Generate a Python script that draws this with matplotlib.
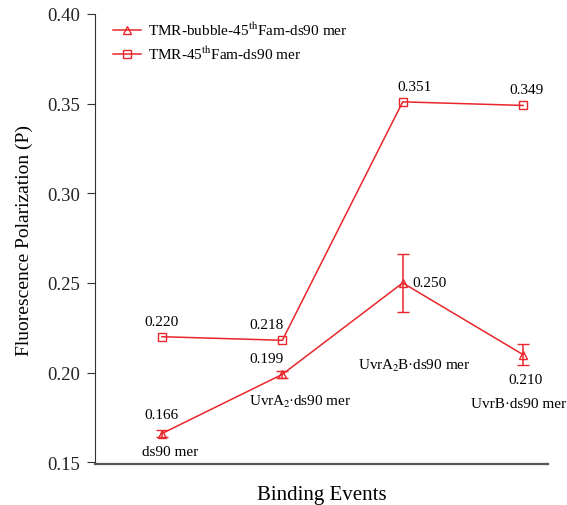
import matplotlib
matplotlib.use("Agg")
import matplotlib.pyplot as plt
from matplotlib.lines import Line2D

plt.rcParams["font.family"] = ["Liberation Serif", "DejaVu Serif"]
plt.rcParams["mathtext.fontset"] = "stix"

events = ["ds90 mer", r"UvrA$_2\!$·ds90 mer", r"UvrA$_2\!$B·ds90 mer", "UvrB·ds90 mer"]
bubble = [0.166, 0.199, 0.250, 0.210]
bubble_err = [0.002, 0.002, 0.016, 0.006]
duplex = [0.220, 0.218, 0.351, 0.349]
yticks = [0.15, 0.20, 0.25, 0.30, 0.35, 0.40]
series_names = [r"TMR-bubble-45$^{\rm th}$Fam-ds90 mer", r"TMR-45$^{\rm th}$Fam-ds90 mer"]

red = "#e8262b"
x = [1, 2, 3, 4]

fig = plt.figure(figsize=(5.67, 5.06), dpi=100)
ax = fig.add_axes([95 / 567, 1 - 465 / 506, 453 / 567, 450 / 506])

ax.errorbar(x, bubble, yerr=bubble_err, color=red, lw=1.1, marker="^", ms=6,
            mfc="none", mec=red, capsize=4, elinewidth=1.1)
ax.plot(x, duplex, color=red, lw=1.1, marker="s", ms=6, mfc="none", mec=red)

ax.set_xlim(0.444, 4.207)
ax.set_ylim(0.149, 0.40)
ax.set_yticks(yticks)
ax.set_yticklabels([f"{v:.2f}" for v in yticks])
ax.set_xticks([])
ax.spines["top"].set_visible(False)
ax.spines["right"].set_visible(False)
ax.spines["left"].set_color("#333333")
ax.spines["bottom"].set_color("#555555")
ax.spines["bottom"].set_linewidth(1.6)
ax.tick_params(axis="y", direction="out", length=6, pad=5, labelsize=13.5, colors="#333333",
               labelcolor="#222222")

ax.set_ylabel("Fluorescence Polarization (P)", fontsize=14, labelpad=10)
ax.set_xlabel("Binding Events", fontsize=15, labelpad=15)

fs = 11
# value labels, duplex
ax.text(1, duplex[0] + 0.005, f"{duplex[0]:.3f}", ha="center", va="bottom", fontsize=fs)
ax.text(1.87, duplex[1] + 0.005, f"{duplex[1]:.3f}", ha="center", va="bottom", fontsize=fs)
ax.text(3.1, duplex[2] + 0.005, f"{duplex[2]:.3f}", ha="center", va="bottom", fontsize=fs)
ax.text(4.03, duplex[3] + 0.005, f"{duplex[3]:.3f}", ha="center", va="bottom", fontsize=fs)
# value labels, bubble
ax.text(1, bubble[0] + 0.007, f"{bubble[0]:.3f}", ha="center", va="bottom", fontsize=fs)
ax.text(1.87, bubble[1] + 0.005, f"{bubble[1]:.3f}", ha="center", va="bottom", fontsize=fs)
ax.text(3.08, bubble[2], f"{bubble[2]:.3f}", ha="left", va="center", fontsize=fs)
ax.text(4.02, bubble[3] - 0.010, f"{bubble[3]:.3f}", ha="center", va="top", fontsize=fs)
# event labels
ax.text(1.07, bubble[0] - 0.0065, events[0], ha="center", va="top", fontsize=fs)
ax.text(2.15, bubble[1] - 0.0105, events[1], ha="center", va="top", fontsize=fs)
ax.text(3.1, duplex[1] - 0.0095, events[2], ha="center", va="top", fontsize=fs)
ax.text(3.96, bubble[3] - 0.0235, events[3], ha="center", va="top", fontsize=fs)

handles = [
    Line2D([], [], color=red, lw=1.1, marker="^", ms=6, mfc="none", mec=red),
    Line2D([], [], color=red, lw=1.1, marker="s", ms=6, mfc="none", mec=red),
]
ax.legend(handles, series_names, loc="upper left", bbox_to_anchor=(0.01, 1.015), frameon=False,
          fontsize=11, handlelength=1.8, handletextpad=0.5, labelspacing=0.45)

plt.savefig("out.png", dpi=100)
plt.close()
